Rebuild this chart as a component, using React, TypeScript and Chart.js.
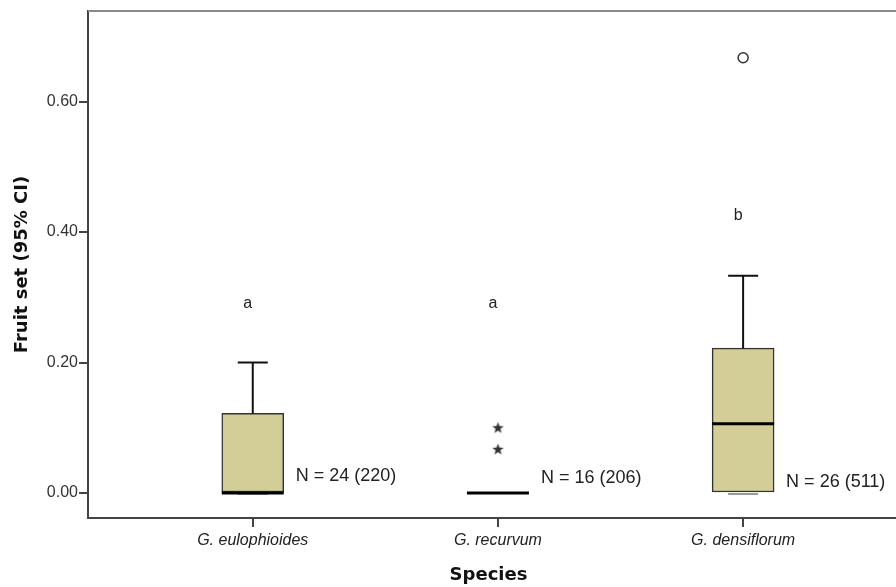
import React, { useEffect, useRef } from "react";
import { Chart, registerables } from "chart.js";

Chart.register(...registerables);

// ---- data ----
const categories = ["G. eulophioides", "G. recurvum", "G. densiflorum"];
const q1 = [0, 0, 0];
const q3 = [0.122, 0, 0.222];
const medians = [0, 0, 0.106];
const whiskerLow = [0, 0, 0];
const whiskerHigh = [0.2, 0, 0.333];
const extremeCat = [2, 2];
const extremeVal = [0.1, 0.067];
const outlierCat = [3];
const outlierVal = [0.667];
const groupLetters = ["a", "a", "b"];
const letterVal = [0.29, 0.29, 0.425];
const nLabels = ["N = 24 (220)", "N = 16 (206)", "N = 26 (511)"];
const nLabelVal = [0.026, 0.023, 0.017];
const yTicks = [0, 0.2, 0.4, 0.6];

const FONT = "'Liberation Sans', Arial, sans-serif";

function makeStar(): HTMLCanvasElement {
  const c = document.createElement("canvas");
  c.width = 13;
  c.height = 13;
  const g = c.getContext("2d")!;
  g.fillStyle = "#333";
  g.beginPath();
  const cx = 6.5, cy = 6.8, R = 6, r = 2.5;
  for (let i = 0; i < 10; i++) {
    const a = -Math.PI / 2 + (i * Math.PI) / 5;
    const rr = i % 2 === 0 ? R : r;
    const x = cx + rr * Math.cos(a);
    const y = cy + rr * Math.sin(a);
    if (i === 0) g.moveTo(x, y);
    else g.lineTo(x, y);
  }
  g.closePath();
  g.fill();
  return c;
}

const boxPlugin = {
  id: "boxExtras",
  afterDatasetsDraw(chart: any) {
    const ctx = chart.ctx;
    const xs = chart.scales.x;
    const ys = chart.scales.y;
    const area = chart.chartArea;
    ctx.save();
    // top frame line (runs off the right edge)
    ctx.strokeStyle = "#8a8a8a";
    ctx.lineWidth = 2;
    ctx.beginPath();
    ctx.moveTo(area.left, area.top);
    ctx.lineTo(chart.width, area.top);
    ctx.stroke();
    // continue bottom axis line to the edge
    ctx.strokeStyle = "#444";
    ctx.beginPath();
    ctx.moveTo(area.right - 4, xs.top);
    ctx.lineTo(chart.width, xs.top);
    ctx.stroke();

    const half = 31;
    const cap = 15;
    categories.forEach((_, i) => {
      const x = xs.getPixelForValue(i + 1);
      const yq1 = ys.getPixelForValue(q1[i]);
      const yq3 = ys.getPixelForValue(q3[i]);
      const yhi = ys.getPixelForValue(whiskerHigh[i]);
      const ylo = ys.getPixelForValue(whiskerLow[i]);
      const ymed = ys.getPixelForValue(medians[i]);
      ctx.strokeStyle = "#111";
      ctx.lineWidth = 2;
      if (whiskerHigh[i] > q3[i]) {
        ctx.beginPath();
        ctx.moveTo(x, yq3);
        ctx.lineTo(x, yhi);
        ctx.moveTo(x - cap, yhi);
        ctx.lineTo(x + cap, yhi);
        ctx.stroke();
      }
      if (q3[i] > q1[i]) {
        ctx.strokeStyle = "#777";
        ctx.lineWidth = 1.5;
        ctx.beginPath();
        ctx.moveTo(x, yq1);
        ctx.lineTo(x, ylo);
        ctx.moveTo(x - cap, ylo + 1);
        ctx.lineTo(x + cap, ylo + 1);
        ctx.stroke();
      }
      // median
      ctx.strokeStyle = "#000";
      ctx.lineWidth = 3;
      ctx.beginPath();
      ctx.moveTo(x - half, ymed);
      ctx.lineTo(x + half, ymed);
      ctx.stroke();

      // group letters
      ctx.fillStyle = "#222";
      ctx.font = `16px ${FONT}`;
      ctx.textAlign = "center";
      ctx.textBaseline = "middle";
      ctx.fillText(groupLetters[i], x - 5, ys.getPixelForValue(letterVal[i]));

      // N labels
      ctx.font = `18px ${FONT}`;
      ctx.textAlign = "left";
      ctx.fillText(nLabels[i], x + 43, ys.getPixelForValue(nLabelVal[i]));
    });
    ctx.restore();
  },
};

export default function App() {
  const ref = useRef<HTMLCanvasElement | null>(null);
  useEffect(() => {
    document.body.style.margin = "0";
    const star = makeStar();
    const chart = new Chart(ref.current!, {
      type: "bar",
      data: {
        datasets: [
          {
            type: "bar",
            data: categories.map((_, i) => ({ x: i + 1, y: [q1[i], q3[i]] })) as any,
            backgroundColor: "#d3ce98",
            borderColor: "#333",
            borderWidth: 1.5,
            borderSkipped: false,
            barThickness: 62,
          } as any,
          {
            type: "scatter",
            data: extremeCat.map((c, i) => ({ x: c, y: extremeVal[i] })),
            pointStyle: star,
            pointRadius: 6,
          } as any,
          {
            type: "scatter",
            data: outlierCat.map((c, i) => ({ x: c, y: outlierVal[i] })),
            pointStyle: "circle",
            pointRadius: 5,
            backgroundColor: "rgba(0,0,0,0)",
            borderColor: "#333",
            borderWidth: 1.5,
          } as any,
        ],
      },
      options: {
        responsive: false,
        animation: false,
        layout: { padding: { top: 11, right: 0, left: 0, bottom: 0 } },
        plugins: {
          legend: { display: false },
          tooltip: { enabled: false },
        },
        scales: {
          x: {
            type: "linear",
            offset: false,
            min: 0.328,
            max: 3.595,
            afterBuildTicks: (s: any) => {
              s.ticks = categories.map((_, i) => ({ value: i + 1 }));
            },
            afterFit: (s: any) => {
              s.height = 69;
            },
            ticks: {
              autoSkip: false,
              maxRotation: 0,
              padding: 4,
              color: "#222",
              font: { family: FONT, size: 16, style: "italic" },
              callback: (v: any) => categories[Math.round(Number(v)) - 1] ?? "",
            },
            grid: {
              offset: false,
              drawOnChartArea: false,
              drawTicks: true,
              tickLength: 9,
              color: "#444",
              lineWidth: 2,
            },
            border: { color: "#444", width: 2 },
            title: {
              display: true,
              text: "Species",
              color: "#111",
              font: { family: "'DejaVu Sans', sans-serif", size: 18, weight: "bold" },
              padding: { top: 0, bottom: 1 },
            },
          },
          y: {
            type: "linear",
            min: -0.0383,
            max: 0.7387,
            afterBuildTicks: (s: any) => {
              s.ticks = yTicks.map((v) => ({ value: v }));
            },
            afterFit: (s: any) => {
              s.width = 88;
            },
            ticks: {
              padding: 1,
              color: "#333",
              font: { family: FONT, size: 16 },
              callback: (v: any) => Number(v).toFixed(2),
            },
            grid: {
              drawOnChartArea: false,
              drawTicks: true,
              tickLength: 9,
              color: "#444",
              lineWidth: 2,
            },
            border: { color: "#444", width: 2 },
            title: {
              display: true,
              text: "Fruit set (95% CI)",
              color: "#111",
              font: { family: "'DejaVu Sans', sans-serif", size: 18, weight: "bold" },
              padding: { top: 12, bottom: 0 },
            },
          },
        },
      },
      plugins: [boxPlugin],
    });
    return () => chart.destroy();
  }, []);
  return (
    <div style={{ width: 896, height: 587 }}>
      <canvas ref={ref} width={896} height={587} style={{ display: "block" }} />
    </div>
  );
}
